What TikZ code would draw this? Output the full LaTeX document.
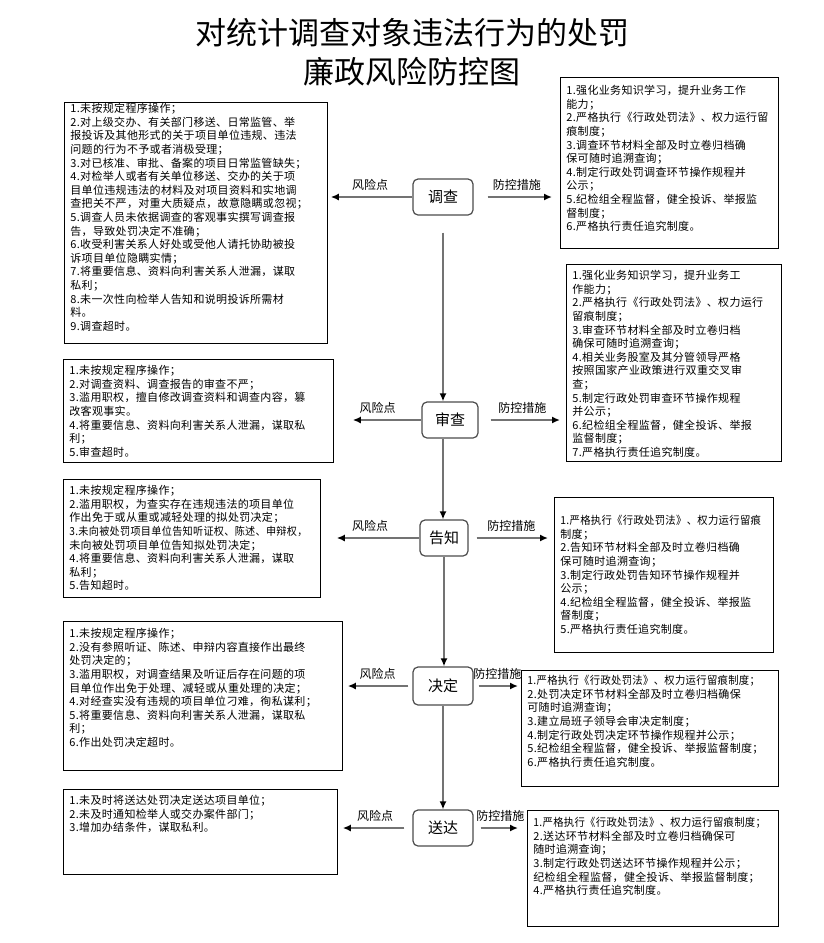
\documentclass[tikz,border=0pt]{standalone}
\usepackage{fontspec}
\setmainfont{Noto Sans CJK SC}
\newfontfamily\boxfont{Noto Sans CJK SC}[LetterSpace=3]
\usepackage{graphicx}
\usetikzlibrary{arrows.meta}

% box body: width, height, top pad, lines
\newcommand{\pbody}[4]{\parbox[c][#2][t]{#1}{\vspace*{#3}#4}}
\newcommand{\squeeze}[1]{\scalebox{0.94}[1]{#1}}

\begin{document}
\begin{tikzpicture}[x=1pt, y=-1pt,
    riskbox/.style={draw, line width=0.8pt, anchor=north west, inner xsep=6pt, inner ysep=0pt,
        font=\boxfont\fontsize{11}{13.6}\selectfont},
    stage/.style={draw=black!70, line width=1.2pt, rounded corners=5pt, minimum width=60pt,
        minimum height=36pt, font=\fontsize{15}{18}\selectfont},
    link/.style={draw=black!55, line width=1.6pt, -{Latex[length=8pt, width=7pt, color=black]}},
    tag/.style={font=\fontsize{12}{14}\selectfont, inner sep=2pt, above=4pt}]
        % --- 1. Frame and title ---
        \useasboundingbox (0,0) rectangle (823,943);
        \fill[white] (0,0) rectangle (823,943);
        \node[font=\fontsize{31}{39}\selectfont, align=center] (Title) at (412,52)
            {对统计调查对象违法行为的处罚\\廉政风险防控图};

        % --- 2. Stages ---
        \node[stage] (Survey) at (443,197) {调查};
        \node[stage, minimum width=56pt] (Review) at (450,420) {审查};
        \node[stage, minimum width=48pt] (Notify) at (444,538) {告知};
        \node[stage, minimum height=38pt] (Decide) at (443,686) {决定};
        \node[stage] (Deliver) at (443,828) {送达};

        % --- 3. Risk points (left) ---
        \node[riskbox] (SurveyRisk) at (64,102) {\pbody{251pt}{241pt}{1pt}{%
            1.未按规定程序操作；\\
            2.对上级交办、有关部门移送、日常监管、举\\
            报投诉及其他形式的关于项目单位违规、违法\\
            问题的行为不予或者消极受理；\\
            3.对已核准、审批、备案的项目日常监管缺失；\\
            4.对检举人或者有关单位移送、交办的关于项\\
            目单位违规违法的材料及对项目资料和实地调\\
            查把关不严，对重大质疑点，故意隐瞒或忽视；\\
            5.调查人员未依据调查的客观事实撰写调查报\\
            告，导致处罚决定不准确；\\
            6.收受利害关系人好处或受他人请托协助被投\\
            诉项目单位隐瞒实情；\\
            7.将重要信息、资料向利害关系人泄漏，谋取\\
            私利；\\
            8.未一次性向检举人告知和说明投诉所需材\\
            料。\\
            9.调查超时。}};
        \node[riskbox] (ReviewRisk) at (63,359) {\pbody{258pt}{103pt}{6pt}{%
            1.未按规定程序操作；\\
            2.对调查资料、调查报告的审查不严；\\
            3.滥用职权，擅自修改调查资料和调查内容，篡\\
            改客观事实。\\
            4.将重要信息、资料向利害关系人泄漏，谋取私\\
            利；\\
            5.审查超时。}};
        \node[riskbox] (NotifyRisk) at (63,479) {\pbody{245pt}{118pt}{6pt}{%
            1.未按规定程序操作；\\
            2.滥用职权，为查实存在违规违法的项目单位\\
            作出免于或从重或减轻处理的拟处罚决定；\\
            \scalebox{0.92}[1]{3.未向被处罚项目单位告知听证权、陈述、申辩权，}\\
            未向被处罚项目单位告知拟处罚决定；\\
            4.将重要信息、资料向利害关系人泄漏，谋取\\
            私利；\\
            5.告知超时。}};
        \node[riskbox] (DecideRisk) at (63,621) {\pbody{267pt}{149pt}{7pt}{%
            1.未按规定程序操作；\\
            2.没有参照听证、陈述、申辩内容直接作出最终\\
            处罚决定的；\\
            3.滥用职权，对调查结果及听证后存在问题的项\\
            目单位作出免于处理、减轻或从重处理的决定；\\
            4.对经查实没有违规的项目单位刁难，徇私谋利；\\
            5.将重要信息、资料向利害关系人泄漏，谋取私\\
            利；\\
            6.作出处罚决定超时。}};
        \node[riskbox] (DeliverRisk) at (63,789) {\pbody{262pt}{85pt}{6pt}{%
            1.未及时将送达处罚决定送达项目单位；\\
            2.未及时通知检举人或交办案件部门；\\
            3.增加办结条件，谋取私利。}};

        % --- 4. Control measures (right) ---
        \node[riskbox] (SurveyCtrl) at (560,77) {\pbody{206pt}{171pt}{8pt}{%
            1.强化业务知识学习，提升业务工作\\
            能力；\\
            2.严格执行《行政处罚法》、权力运行留\\
            痕制度；\\
            3.调查环节材料全部及时立卷归档确\\
            保可随时追溯查询；\\
            4.制定行政处罚调查环节操作规程并\\
            公示；\\
            5.纪检组全程监督，健全投诉、举报监\\
            督制度；\\
            6.严格执行责任追究制度。}};
        \node[riskbox] (ReviewCtrl) at (566,264) {\pbody{203pt}{197pt}{6pt}{%
            1.强化业务知识学习，提升业务工\\
            作能力；\\
            2.严格执行《行政处罚法》、权力运行\\
            留痕制度；\\
            3.审查环节材料全部及时立卷归档\\
            确保可随时追溯查询；\\
            4.相关业务股室及其分管领导严格\\
            按照国家产业政策进行双重交叉审\\
            查；\\
            5.制定行政处罚审查环节操作规程\\
            并公示；\\
            6.纪检组全程监督，健全投诉、举报\\
            监督制度；\\
            7.严格执行责任追究制度。}};
        \node[riskbox] (NotifyCtrl) at (554,497) {\pbody{207pt}{155pt}{18pt}{%
            \squeeze{1.严格执行《行政处罚法》、权力运行留痕}\\
            制度；\\
            2.告知环节材料全部及时立卷归档确\\
            保可随时追溯查询；\\
            3.制定行政处罚告知环节操作规程并\\
            公示；\\
            4.纪检组全程监督，健全投诉、举报监\\
            督制度；\\
            5.严格执行责任追究制度。}};
        \node[riskbox] (DecideCtrl) at (521,670) {\pbody{245pt}{116pt}{5pt}{%
            \squeeze{1.严格执行《行政处罚法》、权力运行留痕制度；}\\
            2.处罚决定环节材料全部及时立卷归档确保\\
            可随时追溯查询；\\
            3.建立局班子领导会审决定制度；\\
            4.制定行政处罚决定环节操作规程并公示；\\
            5.纪检组全程监督，健全投诉、举报监督制度；\\
            6.严格执行责任追究制度。}};
        \node[riskbox] (DeliverCtrl) at (527,810) {\pbody{239pt}{116pt}{7pt}{%
            \squeeze{1.严格执行《行政处罚法》、权力运行留痕制度；}\\
            2.送达环节材料全部及时立卷归档确保可\\
            随时追溯查询；\\
            3.制定行政处罚送达环节操作规程并公示；\\
            纪检组全程监督，健全投诉、举报监督制度；\\
            4.严格执行责任追究制度。}};

        % --- 5. Flow down the stages ---
        \draw[link, shorten <=17pt] (Survey) -- (Survey |- Review.north);
        \draw[link] (Survey |- Review.south) -- (Survey |- Notify.north);
        \draw[link] (Notify) -- (Notify |- Decide.north);
        \draw[link] (Decide) -- (Decide |- Deliver.north);

        % --- 6. Side arrows ---
        \draw[link, shorten >=3pt] (Survey) -- (SurveyRisk.east |- Survey)
            node[tag, midway] (SurveyRiskTag) {风险点};
        \draw[link, shorten <=14pt, shorten >=8pt] (Survey) -- (SurveyCtrl.west |- Survey)
            node[tag, midway] (SurveyCtrlTag) {防控措施};
        \draw[link, shorten >=19pt] (Review) -- (ReviewRisk.east |- Review)
            node[tag, midway] (ReviewRiskTag) {风险点};
        \draw[link, shorten <=12pt, shorten >=6pt] (Review) -- (ReviewCtrl.west |- Review)
            node[tag, midway] (ReviewCtrlTag) {防控措施};
        \draw[link, shorten >=16pt] (Notify) -- (NotifyRisk.east |- Notify)
            node[tag, midway] (NotifyRiskTag) {风险点};
        \draw[link, shorten <=8pt, shorten >=6pt] (Notify) -- (NotifyCtrl.west |- Notify)
            node[tag, midway] (NotifyCtrlTag) {防控措施};
        \draw[link, shorten <=4pt, shorten >=5pt] (Decide) -- (DecideRisk.east |- Decide)
            node[tag, midway] (DecideRiskTag) {风险点};
        \draw[link, shorten <=5pt, shorten >=3pt] (Decide) -- (DecideCtrl.west |- Decide)
            node[tag, midway] (DecideCtrlTag) {防控措施};
        \draw[link, shorten <=8pt, shorten >=5pt] (Deliver) -- (DeliverRisk.east |- Deliver)
            node[tag, midway] (DeliverRiskTag) {风险点};
        \draw[link, shorten <=7pt, shorten >=9pt] (Deliver) -- (DeliverCtrl.west |- Deliver)
            node[tag, midway] (DeliverCtrlTag) {防控措施};
    \end{tikzpicture}
\end{document}
